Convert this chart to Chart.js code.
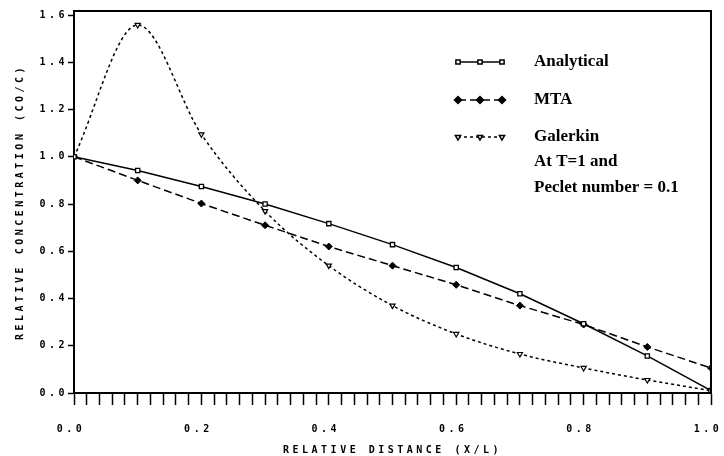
<!DOCTYPE html>
<html>
<head>
<meta charset="utf-8">
<script src="https://cdn.jsdelivr.net/npm/chart.js@4/dist/chart.umd.min.js"></script>
<style>
  html, body { margin: 0; padding: 0; background: #fff; }
  #wrap { width: 724px; height: 456px; }
</style>
</head>
<body>
<div id="wrap"><canvas id="conc"></canvas></div>
<script>
// relative distance (X/L)
const distance = [0.0, 0.1, 0.2, 0.3, 0.4, 0.5, 0.6, 0.7, 0.8, 0.9, 1.0];
// relative concentration (CO/C)
const analytical = [1.0, 0.942, 0.874, 0.80, 0.717, 0.628, 0.531, 0.42, 0.293, 0.157, 0.01];
const mta        = [1.0, 0.90, 0.802, 0.71, 0.62, 0.539, 0.458, 0.37, 0.29, 0.195, 0.106];
const galerkin   = [1.0, 1.558, 1.095, 0.77, 0.539, 0.37, 0.25, 0.165, 0.106, 0.055, 0.01];

// y axis tick values
const yTicks = [0.0, 0.2, 0.4, 0.6, 0.8, 1.0, 1.2, 1.4, 1.6];

const legendNames = ['Analytical', 'MTA', 'Galerkin'];
const noteLines = ['At T=1 and', 'Peclet number = 0.1'];

const axisFont = { family: 'DejaVu Sans Mono', size: 10, weight: 'bold' };

function toPoints(ys) {
    return distance.map((x, i) => ({ x: x, y: ys[i] }));
}

function onStep(v, step) {
    const r = v / step;
    return Math.abs(r - Math.round(r)) < 1e-6;
}

// spaced-out lettering for the axes only
const spacing = {
    id: 'spacing',
    beforeDraw(chart) { chart.ctx.letterSpacing = '3.5px'; },
    beforeDatasetsDraw(chart) { chart.ctx.letterSpacing = '0px'; }
};

const frame = {
    id: 'frame',
    afterDatasetsDraw(chart) {
        const a = chart.chartArea;
        const ctx = chart.ctx;
        ctx.save();
        ctx.strokeStyle = '#000';
        ctx.lineWidth = 2;
        ctx.beginPath();
        ctx.moveTo(a.left, a.top);
        ctx.lineTo(a.right, a.top);
        ctx.lineTo(a.right, a.bottom);
        ctx.stroke();
        ctx.restore();
    }
};

// legend box inside the plot, top right
const innerLegend = {
    id: 'innerLegend',
    afterDraw(chart) {
        const ctx = chart.ctx;
        const a = chart.chartArea;
        const x0 = a.right - 253;
        const xText = a.right - 177;
        const rows = [a.top + 51, a.top + 89, a.top + 126];
        ctx.save();
        ctx.letterSpacing = '0px';
        chart.data.datasets.forEach((ds, i) => {
            const y = rows[i];
            ctx.strokeStyle = '#000';
            ctx.lineWidth = 1.5;
            ctx.setLineDash(ds.borderDash || []);
            ctx.beginPath();
            ctx.moveTo(x0, y);
            ctx.lineTo(x0 + 44, y);
            ctx.stroke();
            ctx.setLineDash([]);
            for (let k = 0; k < 3; k++) {
                ctx.fillStyle = ds.pointBackgroundColor;
                ctx.strokeStyle = '#000';
                Chart.helpers.drawPoint(ctx, {
                    pointStyle: ds.pointStyle,
                    radius: ds.pointRadius,
                    borderWidth: ds.pointBorderWidth,
                    rotation: ds.pointRotation || 0
                }, x0 + k * 22, y);
            }
            ctx.fillStyle = '#000';
            ctx.font = 'bold 17px "Liberation Serif"';
            ctx.textBaseline = 'middle';
            ctx.textAlign = 'left';
            ctx.fillText(legendNames[i], xText, y);
        });
        ctx.fillText(noteLines[0], xText, a.top + 151);
        ctx.fillText(noteLines[1], xText, a.top + 177);
        ctx.restore();
    }
};

const ctx = document.getElementById('conc').getContext('2d');
const chart = new Chart(ctx, {
    type: 'line',
    data: {
        datasets: [{
            label: legendNames[0],
            data: toPoints(analytical),
            borderColor: '#000',
            borderWidth: 1.5,
            pointStyle: 'rect',
            pointRadius: 3,
            pointBorderWidth: 1.3,
            pointBackgroundColor: '#fff',
            pointBorderColor: '#000',
            tension: 0
        }, {
            label: legendNames[1],
            data: toPoints(mta),
            borderColor: '#000',
            borderWidth: 1.5,
            borderDash: [8, 4],
            pointStyle: 'rectRot',
            pointRadius: 3.5,
            pointBorderWidth: 1,
            pointBackgroundColor: '#000',
            pointBorderColor: '#000',
            tension: 0
        }, {
            label: legendNames[2],
            data: toPoints(galerkin),
            borderColor: '#000',
            borderWidth: 1.5,
            borderDash: [3, 3],
            pointStyle: 'triangle',
            pointRotation: 180,
            pointRadius: 3,
            pointBorderWidth: 1.2,
            pointBackgroundColor: '#fff',
            pointBorderColor: '#000',
            cubicInterpolationMode: 'monotone'
        }]
    },
    options: {
        responsive: true,
        maintainAspectRatio: false,
        animation: false,
        layout: { padding: { top: 11, right: 13, left: 0, bottom: 0 } },
        plugins: {
            legend: { display: false },
            tooltip: { enabled: false }
        },
        scales: {
            x: {
                type: 'linear',
                min: 0,
                max: 1,
                afterFit(s) {
                    s.height = 63;
                    s.paddingLeft = 0;
                    s.paddingRight = 0;
                },
                grid: { drawOnChartArea: false, tickLength: 12, tickWidth: 1.5, color: '#000' },
                border: { color: '#000', width: 2 },
                ticks: {
                    stepSize: 0.02,
                    maxTicksLimit: 100,
                    autoSkip: false,
                    maxRotation: 0,
                    padding: 18,
                    labelOffset: -3,
                    color: '#000',
                    font: axisFont,
                    callback(v) {
                        return onStep(v, 0.2) ? v.toFixed(1) : '';
                    }
                },
                title: {
                    display: true,
                    text: 'RELATIVE DISTANCE (X/L)',
                    color: '#000',
                    font: axisFont,
                    padding: { top: 0, bottom: 0 }
                }
            },
            y: {
                min: 0,
                max: 1.617,
                afterFit(s) {
                    s.width = 74;
                    s.paddingTop = 0;
                    s.paddingBottom = 0;
                },
                afterBuildTicks(s) {
                    s.ticks = yTicks.map(v => ({ value: v }));
                },
                grid: { drawOnChartArea: false, tickLength: 6, tickWidth: 1.5, color: '#000' },
                border: { color: '#000', width: 2 },
                ticks: {
                    padding: 0,
                    color: '#000',
                    font: axisFont,
                    callback(v) { return v.toFixed(1); }
                },
                title: {
                    display: true,
                    text: 'RELATIVE CONCENTRATION (CO/C)',
                    color: '#000',
                    font: axisFont,
                    padding: { top: 14, bottom: 0 }
                }
            }
        }
    },
    plugins: [spacing, frame, innerLegend]
});
</script>
</body>
</html>
